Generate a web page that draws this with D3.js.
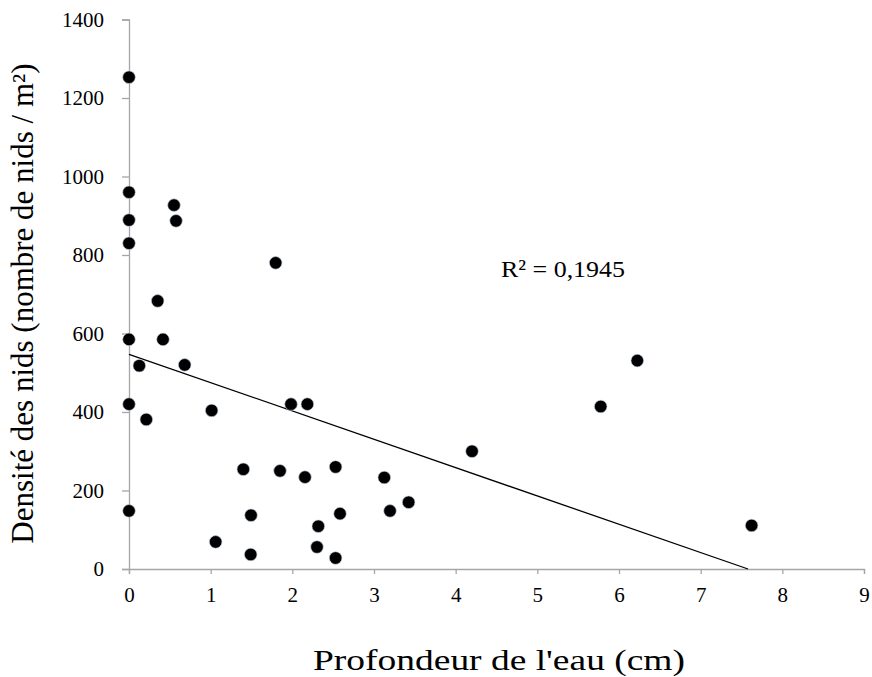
<!DOCTYPE html>
<html><head><meta charset="utf-8">
<script src="https://cdn.jsdelivr.net/npm/d3@7"></script>
<style>body{margin:0;background:#fff}svg{display:block}</style>
</head><body><svg id="c" width="872" height="677"></svg>
<script>
const depth = [0,0,0,0,0,0,0,0.551,0.576,1.796,0.351,0.416,0.126,0.682,1.012,1.984,2.184,0.212,1.40,1.849,2.155,2.53,1.494,2.584,2.318,1.061,2.302,1.49,2.53,3.126,3.196,3.424,4.2,5.776,6.224,7.624];
const density = [1253,960,889,830,585,420,148,927,887,780,683,585,518,520,404,420,420,381,254,250,234,260,137,141,109,69,56,37,28,233,148,170,300,414,531,111];
const xTicks = [0,1,2,3,4,5,6,7,8,9];
const yTicks = [0,200,400,600,800,1000,1200,1400];
// linear trendline: [x, y] at both ends
const trendX = [0, 7.58];
const trendY = [547, 0];
const xTitle = "Profondeur de l'eau (cm)";
const yTitle = "Densité des nids (nombre de nids / m²)";
const r2Label = "R² = 0,1945";

const svg = d3.select("#c");
const font = "'Liberation Serif','Times New Roman',serif";
const x = d3.scaleLinear().domain([0,9]).range([129,864]);
const y = d3.scaleLinear().domain([0,1400]).range([569,19.5]);
const axisColor = "#a6a6a6";

const gx = svg.append("g").attr("transform","translate(0,569)")
  .call(d3.axisBottom(x).tickValues(xTicks).tickSize(5).tickPadding(13).tickFormat(d3.format("d")));
const gy = svg.append("g").attr("transform","translate(129,0)")
  .call(d3.axisLeft(y).tickValues(yTicks).tickSize(7).tickPadding(18).tickFormat(d3.format("d")));
[gx,gy].forEach(g=>{
  g.select(".domain").attr("stroke",axisColor).attr("stroke-width",1.3);
  g.selectAll(".tick line").attr("stroke",axisColor).attr("stroke-width",1.3);
  g.selectAll(".tick text").attr("fill","#000").style("font-family",font).style("font-size","21px");
});

svg.append("line").attr("x1",x(trendX[0])).attr("y1",y(trendY[0]))
  .attr("x2",x(trendX[1])).attr("y2",y(trendY[1]))
  .attr("stroke","#000").attr("stroke-width",1.3);

svg.append("g").selectAll("circle").data(depth.map((d,i)=>[d,density[i]])).join("circle")
  .attr("cx",d=>x(d[0])).attr("cy",d=>y(d[1])).attr("r",6.3)
  .attr("fill","#000").attr("stroke","#c5d5ea").attr("stroke-width",0.6);

svg.append("text").attr("x",501).attr("y",277).text(r2Label)
  .attr("textLength",124).attr("lengthAdjust","spacingAndGlyphs")
  .style("font-family",font).style("font-size","24px").attr("fill","#000");

svg.append("text").attr("x",313).attr("y",669.5).text(xTitle)
  .attr("textLength",372).attr("lengthAdjust","spacingAndGlyphs")
  .style("font-family",font).style("font-size","29px").attr("fill","#000");
svg.append("text").attr("transform","translate(33,303.5) rotate(-90)").attr("text-anchor","middle").text(yTitle)
  .style("font-family",font).style("font-size","31px").attr("fill","#000");
</script></body></html>
